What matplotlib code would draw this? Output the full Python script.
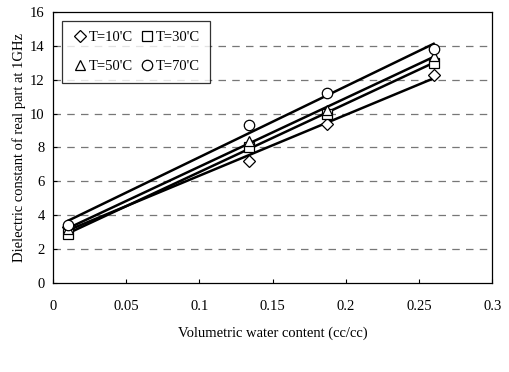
import numpy as np
import matplotlib.pyplot as plt

plt.rcParams['font.family'] = ['Liberation Serif', 'DejaVu Serif']

# volumetric water content (cc/cc)
theta = [0.01, 0.134, 0.187, 0.26]

# dielectric constant (real part, 1 GHz) per temperature
eps_10 = [3.3, 7.2, 9.4, 12.3]
eps_30 = [2.9, 8.0, 10.0, 13.0]
eps_50 = [3.2, 8.4, 10.2, 13.4]
eps_70 = [3.4, 9.3, 11.2, 13.8]

series = [("T=10'C", eps_10, "D"), ("T=30'C", eps_30, "s"),
          ("T=50'C", eps_50, "^"), ("T=70'C", eps_70, "o")]

fig = plt.figure(figsize=(5.09, 3.72), dpi=100)
ax = fig.add_axes([0.104, 0.239, 0.863, 0.729])

xs = np.array([theta[0], theta[-1]])
handles = []
for label, vals, m in series:
    ms = 6 if m == "D" else 7.5
    h, = ax.plot(theta, vals, linestyle="none", marker=m, ms=ms, mfc="white",
                 mec="black", mew=0.9, label=label, zorder=3)
    handles.append(h)
    k, b = np.polyfit(theta, vals, 1)
    ax.plot(xs, k * xs + b, color="black", lw=1.8, zorder=2)

ax.set_xlim(0, 0.3)
ax.set_ylim(0, 16)
ax.set_xticks([0, 0.05, 0.1, 0.15, 0.2, 0.25, 0.3])
ax.set_xticklabels(["0", "0.05", "0.1", "0.15", "0.2", "0.25", "0.3"])
ax.set_yticks(range(0, 17, 2))
ax.tick_params(direction="in", length=3, labelsize=10.5, pad=6)
ax.tick_params(axis="x", pad=12)

for y in range(2, 16, 2):
    ax.axhline(y, color="#777777", lw=0.9, ls=(0, (6, 5)), zorder=1)

ax.set_xlabel("Volumetric water content (cc/cc)", fontsize=10.5, labelpad=10)
ax.set_ylabel("Dielectric constant of real part at 1GHz", fontsize=10.5,
              labelpad=3)

# row-wise order: 10, 30 / 50, 70
order = [0, 2, 1, 3]
leg = ax.legend([handles[i] for i in order], [series[i][0] for i in order],
                loc="upper left", ncol=2, fontsize=10.5, frameon=True,
                fancybox=False, edgecolor="black", handletextpad=0.1,
                columnspacing=0.5, borderpad=0.7, labelspacing=1.1,
                handlelength=1.0, bbox_to_anchor=(0.005, 0.995))
leg.get_frame().set_linewidth(0.9)

for s in ax.spines.values():
    s.set_linewidth(0.9)

fig.savefig("out.png", dpi=100)
